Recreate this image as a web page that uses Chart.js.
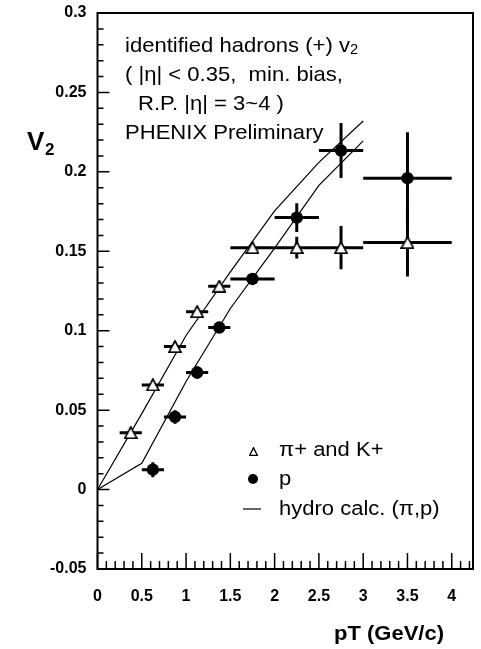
<!DOCTYPE html>
<html lang="en">
<head>
  <meta charset="UTF-8">
  <script src="https://cdn.jsdelivr.net/npm/chart.js@4"></script>
  <title>identified hadrons v2</title>
  <style>
    html, body { margin: 0; padding: 0; background: #fff; }
    #wrap { width: 481px; height: 649px; }
  </style>
</head>
<body>
  <div id="wrap"><canvas id="v2Chart" width="481" height="649"></canvas></div>

  <script>
    // pi+ and K+ (open triangles)
    const piPt   = [0.375, 0.625, 0.875, 1.125, 1.375, 1.75, 2.25, 2.75, 3.5];
    const piV2   = [0.0358, 0.0659, 0.090, 0.112, 0.128, 0.1523, 0.1523, 0.1523, 0.1555];
    const piErrX = [0.125, 0.125, 0.125, 0.125, 0.125, 0.25, 0.25, 0.25, 0.5];
    const piErrY = [0.003, 0.003, 0.003, 0.003, 0.003, 0.003, 0.0068, 0.0136, 0.0214];

    // protons (filled circles)
    const pPt   = [0.625, 0.875, 1.125, 1.375, 1.75, 2.25, 2.75, 3.5];
    const pV2   = [0.0125, 0.0457, 0.0737, 0.102, 0.1326, 0.1712, 0.2134, 0.196];
    const pErrX = [0.125, 0.125, 0.125, 0.125, 0.25, 0.25, 0.25, 0.5];
    const pErrY = [0.0047, 0.0042, 0.004, 0.0035, 0.0035, 0.009, 0.0173, 0.029];

    // hydro calculation, pion and proton
    const hydroPt = [0, 0.5, 1.0, 1.5, 2.0, 2.5, 3.0];
    const hydroPi = [0, 0.0478, 0.097, 0.137, 0.1755, 0.206, 0.232];
    const hydroP  = [0, 0.0166, 0.068, 0.114, 0.152, 0.1915, 0.2195];

    const FONT = '"Liberation Sans", Arial, Helvetica, sans-serif';

    const toXY = (xs, ys) => xs.map((v, i) => ({ x: v, y: ys[i] }));

    // open triangle marker, white inside so the bars stop at its edge
    function triangleMarker(w, h, lw) {
      const c = document.createElement('canvas');
      c.width = w; c.height = h;
      const g = c.getContext('2d');
      g.beginPath();
      g.moveTo(w / 2, lw / 2);
      g.lineTo(lw / 2, h - lw / 2);
      g.lineTo(w - lw / 2, h - lw / 2);
      g.closePath();
      g.fillStyle = '#fff';
      g.fill();
      g.lineWidth = lw;
      g.lineJoin = 'miter';
      g.strokeStyle = '#000';
      g.stroke();
      return c;
    }

    function wideText(ctx, str, x, y, font, sx) {
      ctx.save();
      ctx.font = font;
      ctx.translate(x, y);
      ctx.scale(sx, 1);
      ctx.fillText(str, 0, 0);
      const w = ctx.measureText(str).width * sx;
      ctx.restore();
      return w;
    }

    const errorBars = {
      id: 'errorBars',
      beforeDatasetsDraw(chart) {
        const { ctx, scales: { x, y } } = chart;
        ctx.save();
        ctx.strokeStyle = '#000';
        ctx.lineWidth = 3;
        const draw = (xs, ys, ex, ey) => {
          xs.forEach((v, i) => {
            const px = x.getPixelForValue(v);
            const py = y.getPixelForValue(ys[i]);
            ctx.beginPath();
            ctx.moveTo(x.getPixelForValue(v - ex[i]), py);
            ctx.lineTo(x.getPixelForValue(v + ex[i]), py);
            ctx.moveTo(px, y.getPixelForValue(ys[i] - ey[i]));
            ctx.lineTo(px, y.getPixelForValue(ys[i] + ey[i]));
            ctx.stroke();
          });
        };
        draw(piPt, piV2, piErrX, piErrY);
        draw(pPt, pV2, pErrX, pErrY);
        ctx.restore();
      }
    };

    // box around the pad with inward ticks on the left and bottom
    const frame = {
      id: 'frame',
      afterDatasetsDraw(chart) {
        const { ctx, chartArea: a, scales: { x, y } } = chart;
        ctx.save();
        ctx.strokeStyle = '#000';
        ctx.lineWidth = 1.5;
        ctx.beginPath();
        for (let k = -5; k <= 30; k++) {
          const py = y.getPixelForValue(k / 100);
          const len = k % 5 === 0 ? 12 : 6;
          ctx.moveTo(a.left, py);
          ctx.lineTo(a.left + len, py);
        }
        for (let k = 0; k <= 42; k++) {
          const px = x.getPixelForValue(k / 10);
          const len = k % 5 === 0 ? 16 : 8;
          ctx.moveTo(px, a.bottom);
          ctx.lineTo(px, a.bottom - len);
        }
        ctx.stroke();
        ctx.lineWidth = 2;
        ctx.strokeRect(a.left, a.top, a.right - a.left, a.bottom - a.top);
        ctx.restore();
      }
    };

    const texts = {
      id: 'texts',
      afterDraw(chart) {
        const { ctx } = chart;
        ctx.save();
        ctx.fillStyle = '#000';
        ctx.textBaseline = 'alphabetic';
        ctx.textAlign = 'left';

        const f = '21px ' + FONT;
        let w = wideText(ctx, 'identified hadrons (+) v', 125, 52, f, 1.05);
        wideText(ctx, '2', 125 + w, 54, '14px ' + FONT, 1.05);
        wideText(ctx, '( |\u03b7| < 0.35,  min. bias,', 125, 81, f, 1.05);
        wideText(ctx, 'R.P. |\u03b7| = 3~4 )', 138, 110, f, 1.05);
        wideText(ctx, 'PHENIX Preliminary', 125, 139, f, 1.05);

        // axis titles
        wideText(ctx, 'V', 27, 150, 'bold 26px ' + FONT, 1);
        wideText(ctx, '2', 45, 155, 'bold 17px ' + FONT, 1);
        wideText(ctx, 'pT (GeV/c)', 334, 640, 'bold 20px ' + FONT, 1.1);

        // legend
        const lf = '20px ' + FONT;
        const tri = triangleMarker(9, 9, 1.3);
        ctx.drawImage(tri, 249, 447);
        wideText(ctx, '\u03c0+ and K+', 279, 456, lf, 1.1);
        ctx.beginPath();
        ctx.arc(253, 479, 5, 0, Math.PI * 2);
        ctx.fill();
        wideText(ctx, 'p', 279, 485, lf, 1.1);
        ctx.strokeStyle = '#000';
        ctx.lineWidth = 1.2;
        ctx.beginPath();
        ctx.moveTo(243, 509);
        ctx.lineTo(261, 509);
        ctx.stroke();
        wideText(ctx, 'hydro calc. (\u03c0,p)', 279, 515, lf, 1.1);
        ctx.restore();
      }
    };

    const tickFont = { family: FONT, size: 16, weight: 'bold' };
    const fmt = v => String(+(+v).toFixed(2));

    new Chart(document.getElementById('v2Chart'), {
      type: 'scatter',
      data: {
        datasets: [
          {
            label: '\u03c0+ and K+',
            data: toXY(piPt, piV2),
            pointStyle: triangleMarker(14, 13, 1.7),
            pointRadius: 7,
            order: 1
          },
          {
            label: 'p',
            data: toXY(pPt, pV2),
            pointStyle: 'circle',
            pointRadius: 6.2,
            backgroundColor: '#000',
            borderColor: '#000',
            borderWidth: 0,
            order: 2
          },
          {
            label: 'hydro \u03c0',
            type: 'line',
            data: toXY(hydroPt, hydroPi),
            borderColor: '#000',
            borderWidth: 1.2,
            pointRadius: 0,
            tension: 0,
            order: 3
          },
          {
            label: 'hydro p',
            type: 'line',
            data: toXY(hydroPt, hydroP),
            borderColor: '#000',
            borderWidth: 1.2,
            pointRadius: 0,
            tension: 0,
            order: 4
          }
        ]
      },
      options: {
        responsive: false,
        animation: false,
        devicePixelRatio: 1,
        layout: { padding: { top: 13, right: 6, left: 0, bottom: 0 } },
        plugins: { legend: { display: false }, tooltip: { enabled: false } },
        scales: {
          x: {
            type: 'linear',
            min: 0,
            max: 4.24,
            grid: { display: false },
            border: { display: false },
            ticks: {
              stepSize: 0.5,
              includeBounds: false,
              padding: 10,
              color: '#000',
              font: tickFont,
              maxRotation: 0,
              callback: fmt
            },
            afterFit: s => { s.height = 80; }
          },
          y: {
            type: 'linear',
            min: -0.05,
            max: 0.3,
            grid: { display: false },
            border: { display: false },
            ticks: {
              stepSize: 0.05,
              padding: 3,
              color: '#000',
              font: tickFont,
              callback: fmt
            },
            afterFit: s => { s.width = 97.5; }
          }
        }
      },
      plugins: [errorBars, frame, texts]
    });
  </script>
</body>
</html>
